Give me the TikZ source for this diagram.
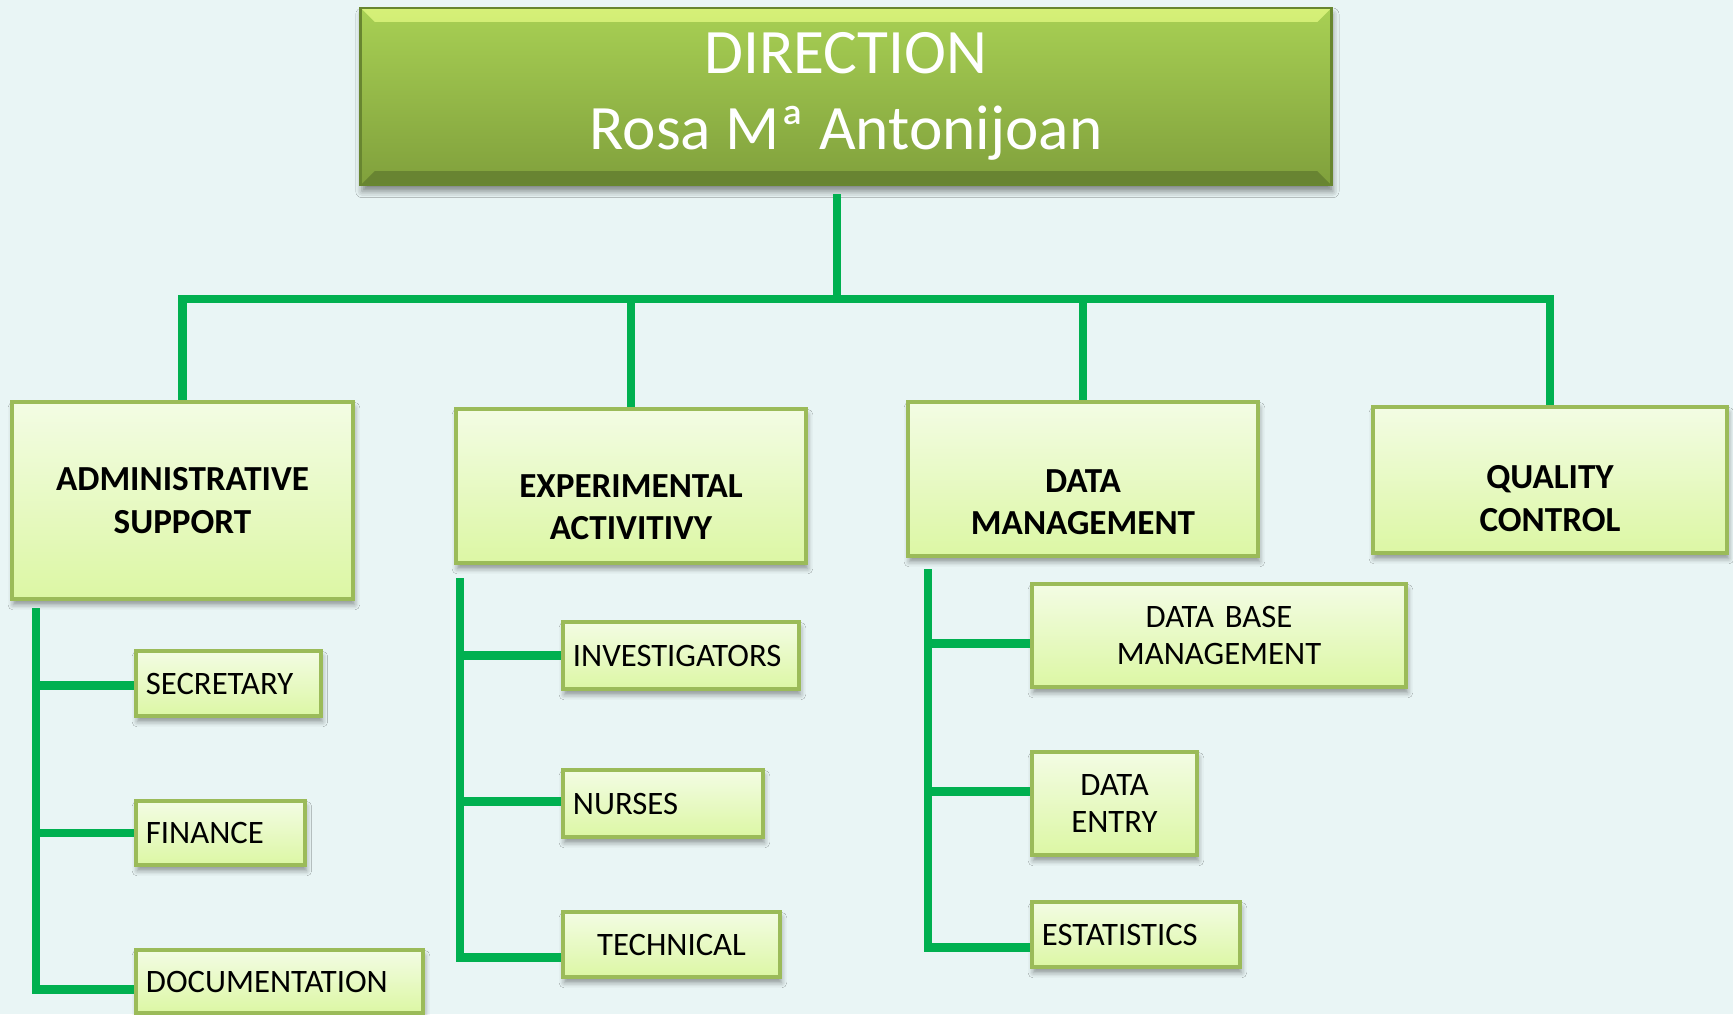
\documentclass[tikz,border=0pt]{standalone}
\usepackage{fontspec}
\setmainfont{Carlito}
\usetikzlibrary{positioning, calc, shadows, shadows.blur}

\definecolor{bgpage}{RGB}{233,245,245}
\definecolor{linkgreen}{RGB}{0,176,80}
\definecolor{subtop}{RGB}{243,252,228}
\definecolor{subbot}{RGB}{220,247,164}
\definecolor{subedge}{RGB}{155,187,89}
\definecolor{dirtop}{RGB}{168,208,84}
\definecolor{dirbot}{RGB}{128,160,60}
\definecolor{diredge}{RGB}{104,134,48}
\definecolor{dirhi}{RGB}{214,240,120}
\definecolor{dirlo}{RGB}{104,132,50}

\tikzset{
    link/.style={draw=linkgreen, line width=2.3pt},
    boxbase/.style={rectangle, draw=subedge, line width=1.1pt,
        top color=subtop, bottom color=subbot,
        blur shadow={shadow xshift=0.4pt, shadow yshift=-1.6pt, shadow blur radius=1.5pt, shadow opacity=40}},
    headbox/.style args={#1 #2}{boxbase, minimum width=#1, minimum height=#2, inner sep=0pt},
    headtext/.style={font=\fontsize{10}{12}\selectfont\bfseries, align=center, inner sep=0pt},
    subbox/.style args={#1 #2 #3}{boxbase, text width=#1, minimum height=#2, align=#3,
        inner xsep=0.1cm, inner ysep=0pt, font=\fontsize{9.3}{10.7}\selectfont},
    dirbox/.style={rectangle, draw=diredge, line width=0.8pt,
        top color=dirtop, bottom color=dirbot, text=white, align=center,
        font=\fontsize{18}{21.6}\selectfont, minimum width=9.7cm, minimum height=1.77cm, inner sep=0pt,
        blur shadow={shadow xshift=0.4pt, shadow yshift=-1.8pt, shadow blur radius=1.8pt, shadow opacity=45},
        path picture={
            \shade[top color=dirhi, bottom color=dirtop]
                (path picture bounding box.north west) -- (path picture bounding box.north east)
                -- ([shift={(-0.14cm,-0.14cm)}]path picture bounding box.north east)
                -- ([shift={(0.14cm,-0.14cm)}]path picture bounding box.north west) -- cycle;
            \fill[dirlo]
                (path picture bounding box.south west) -- (path picture bounding box.south east)
                -- ([shift={(-0.14cm,0.14cm)}]path picture bounding box.south east)
                -- ([shift={(0.14cm,0.14cm)}]path picture bounding box.south west) -- cycle;
        }},
}

\begin{document}
\begin{tikzpicture}[x=0.01cm, y=-0.01cm]
    \fill[bgpage] (0,0) rectangle (1733,1014);
    \useasboundingbox (0,0) rectangle (1733,1014);

    % top box
    \node[dirbox] (dir) at (846,96.5) {DIRECTION\\Rosa Mª Antonijoan};

    % departments
    \node[headbox={3.41cm 1.97cm}] (adm) at (182.5,500.5) {};
    \node[headbox={3.50cm 1.54cm}] (exp) at (631,486) {};
    \node[headbox={3.50cm 1.54cm}] (data) at (1083,479) {};
    \node[headbox={3.54cm 1.46cm}] (qual) at (1550,480) {};
    \node[headtext] (admL) at (adm.center) {ADMINISTRATIVE\\SUPPORT};
    \node[headtext] (expL) at ([yshift=-0.21cm]exp.center) {EXPERIMENTAL\\ACTIVITIVY};
    \node[headtext] (dataL) at ([yshift=-0.23cm]data.center) {DATA\\MANAGEMENT};
    \node[headtext] (qualL) at ([yshift=-0.185cm]qual.center) {QUALITY\\CONTROL};

    % units
    \node[subbox={1.65cm 0.65cm left}] (sec) at (228.5,683.5) {SECRETARY};
    \node[subbox={1.49cm 0.64cm left}] (fin) at (220.5,833) {FINANCE};
    \node[subbox={2.67cm 0.63cm left}] (doc) at (279.5,981.5) {DOCUMENTATION};
    \node[subbox={2.16cm 0.67cm left}] (inv) at (681,655.5) {INVESTIGATORS};
    \node[subbox={1.80cm 0.67cm left}] (nur) at (663,803.5) {NURSES};
    \node[subbox={1.97cm 0.65cm center}] (tec) at (671.5,944.5) {TECHNICAL};
    \node[subbox={3.54cm 1.03cm center}] (dbm) at (1219,635.5) {DATA BASE\\MANAGEMENT};
    \node[subbox={1.45cm 1.03cm center}] (den) at (1114.5,803.5) {DATA\\ENTRY};
    \node[subbox={1.88cm 0.65cm left}] (est) at (1136,934.5) {ESTATISTICS};

    % connectors
    \coordinate (hub) at (837,299);
    \draw[link] (hub |- dir.south) ++(0,8) -- (hub);
    \draw[link, line cap=rect] (adm.north |- hub) -- (qual.north |- hub);
    \foreach \b in {adm,exp,data,qual}
        \draw[link] (\b.north |- hub) -- (\b.north);

    \coordinate (admS) at (36,608);
    \coordinate (expS) at (460,578);
    \coordinate (dataS) at (928,569);
    \foreach \c/\d in {sec/2,fin/0,doc/8}
        \draw[link] (admS) |- ($(\c.west)+(0,\d)$);
    \foreach \c/\d in {inv/0,nur/-2,tec/13}
        \draw[link] (expS) |- ($(\c.west)+(0,\d)$);
    \foreach \c/\d in {dbm/8,den/-12,est/13}
        \draw[link] (dataS) |- ($(\c.west)+(0,\d)$);
\end{tikzpicture}
\end{document}
